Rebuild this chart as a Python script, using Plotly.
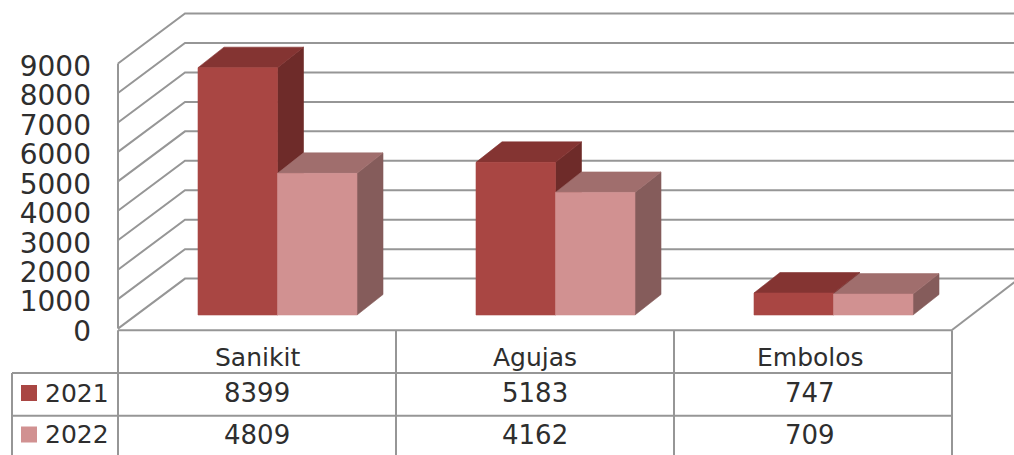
import plotly.graph_objects as go

categories = ["Sanikit", "Agujas", "Embolos"]
series_names = ["2021", "2022"]
values_2021 = [8399, 5183, 747]
values_2022 = [4809, 4162, 709]
y_ticks = [0, 1000, 2000, 3000, 4000, 5000, 6000, 7000, 8000, 9000]

W, H = 1014, 455
FONT = "DejaVu Sans"
TXT = "#2e2e2e"
GRID = "#969696"

# plot scale: pixels per unit on each data axis
PX_X = 278.0       # one category
PX_Y = 0.02945     # one value unit
X0, Y0 = 118.0, 328.6
LABEL_SHIFT = 2.5  # tick labels sit slightly below their gridlines

# oblique depth, in data units
WALL_DX, WALL_DY = 67 / PX_X, 50 / PX_Y
BAR_DX, BAR_DY = 26 / PX_X, 20.5 / PX_Y
BAR_LIFT = 13.6 / PX_Y
BAR_LEFT, BAR_W = 80 / PX_X, 79.5 / PX_X

colors = {
    "2021": dict(front="#A94643", top="#843432", side="#6E2B29"),
    "2022": dict(front="#D19191", top="#A06E6D", side="#855C5B"),
}

fig = go.Figure()


def poly(xs, ys, color, name):
    fig.add_trace(go.Scatter(x=xs, y=ys, mode="lines", fill="toself", fillcolor=color,
                             line=dict(color=color, width=0.6), name=name,
                             showlegend=False, hoverinfo="skip"))


# walls
gx, gy = [], []
for v in y_ticks:
    gx += [0, WALL_DX, len(categories) + WALL_DX, None]
    gy += [v, v + WALL_DY, v + WALL_DY, None]
gx += [0, 0, None, len(categories), len(categories) + WALL_DX]
gy += [y_ticks[0], y_ticks[-1], None, -50, WALL_DY]
fig.add_trace(go.Scatter(x=gx, y=gy, mode="lines", line=dict(color=GRID, width=2),
                         showlegend=False, hoverinfo="skip"))

# 3-D bars
for s, (name, vals) in enumerate(zip(series_names, [values_2021, values_2022])):
    fx, fy, tx, ty, sx, sy = [], [], [], [], [], []
    for c, v in enumerate(vals):
        l = c + BAR_LEFT + s * BAR_W
        r = l + BAR_W
        b, t = BAR_LIFT, BAR_LIFT + v
        fx += [l, r, r, l, l, None]
        fy += [b, b, t, t, b, None]
        tx += [l, r, r + BAR_DX, l + BAR_DX, l, None]
        ty += [t, t, t + BAR_DY, t + BAR_DY, t, None]
        sx += [r, r + BAR_DX, r + BAR_DX, r, r, None]
        sy += [b, b + BAR_DY, t + BAR_DY, t, b, None]
    poly(sx, sy, colors[name]["side"], name + " side")
    poly(tx, ty, colors[name]["top"], name + " top")
    poly(fx, fy, colors[name]["front"], name)

# carries the value-axis labels
fig.add_trace(go.Scatter(x=[0, 0], y=[y_ticks[0], y_ticks[-1]], yaxis="y2", mode="lines",
                         line=dict(color="rgba(0,0,0,0)", width=0), showlegend=False,
                         hoverinfo="skip"))


def px(x):
    return x / W


def py(y):
    return 1 - y / H


# data table
VX = [118, 396, 674, 952]
ROWS = [330.3, 373, 415.7]
LEFT = 12
shapes = []


def seg(x0, y0, x1, y1):
    shapes.append(dict(type="line", xref="paper", yref="paper", x0=px(x0), x1=px(x1),
                       y0=py(y0), y1=py(y1), line=dict(color=GRID, width=2), layer="above"))


seg(VX[0], ROWS[0], VX[-1], ROWS[0])
seg(LEFT, ROWS[1], VX[-1], ROWS[1])
seg(LEFT, ROWS[2], VX[-1], ROWS[2])
for x in VX:
    seg(x, ROWS[0], x, H)
seg(LEFT, ROWS[1], LEFT, H)

ann = []


def label(x, y, text, anchor="center", size=26):
    ann.append(dict(xref="paper", yref="paper", x=px(x), y=py(y), text=text, showarrow=False,
                    xanchor=anchor, yanchor="middle", borderpad=0, borderwidth=0,
                    font=dict(family=FONT, size=size, color=TXT)))


CENTERS = [257, 535, 810]
ROW_Y = [393, 434.5]
for c, cat in enumerate(categories):
    label(CENTERS[c], 357, cat, size=25)
for r, vals in enumerate([values_2021, values_2022]):
    for c, v in enumerate(vals):
        label(CENTERS[c], ROW_Y[r], str(v))
for r, name in enumerate(series_names):
    label(45, ROW_Y[r], name, anchor="left", size=25)
    shapes.append(dict(type="rect", xref="paper", yref="paper", x0=px(21), x1=px(37),
                       y0=py(ROW_Y[r] - 8), y1=py(ROW_Y[r] + 8),
                       fillcolor=colors[name]["front"], line=dict(width=0), layer="above"))

fig.update_layout(
    width=W, height=H, margin=dict(l=0, r=0, t=0, b=0, pad=0), autosize=False,
    paper_bgcolor="white", plot_bgcolor="white", showlegend=False,
    shapes=shapes, annotations=ann,
    xaxis=dict(range=[(0 - X0) / PX_X, (W - X0) / PX_X], visible=False, domain=[0, 1],
               fixedrange=True),
    yaxis=dict(range=[(Y0 - H) / PX_Y, Y0 / PX_Y], domain=[0, 1], visible=False,
               fixedrange=True),
    yaxis2=dict(range=[(Y0 - H + LABEL_SHIFT) / PX_Y, (Y0 + LABEL_SHIFT) / PX_Y], domain=[0, 1],
                overlaying="y", anchor="free", position=(X0 + 1) / W, side="left",
                tickmode="array", tickvals=y_ticks, ticktext=[str(v) for v in y_ticks],
                showgrid=False, zeroline=False, showline=False, ticks="",
                ticklabelstandoff=28, fixedrange=True,
                tickfont=dict(family=FONT, size=28, color=TXT)),
)

fig.write_html("out.html", config={"displayModeBar": False},
               post_script="document.body.style.margin='0';document.body.style.overflow='hidden';")
